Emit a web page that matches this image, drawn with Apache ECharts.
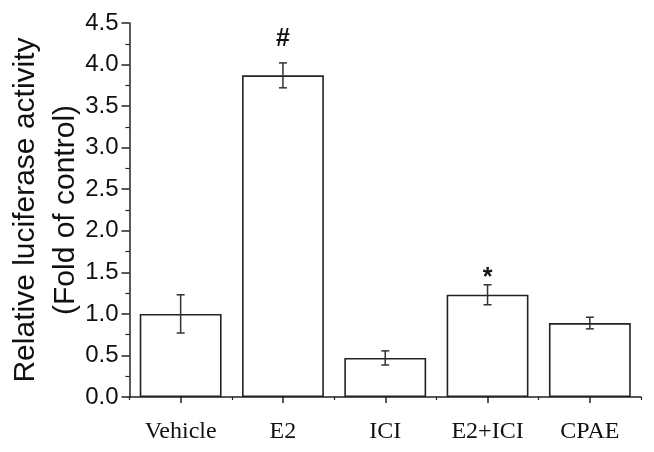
<!DOCTYPE html>
<html>
<head>
<meta charset="utf-8">
<script src="https://cdn.jsdelivr.net/npm/echarts@6/dist/echarts.min.js"></script>
<style>html,body{margin:0;padding:0;background:#fff;}#c{width:654px;height:452px;}</style>
</head>
<body>
<div id="c"></div>
<script>
var categories = ['Vehicle', 'E2', 'ICI', 'E2+ICI', 'CPAE'];
var means = [1.0, 3.87, 0.47, 1.23, 0.89];
var errors = [0.23, 0.15, 0.085, 0.12, 0.07];
var annotations = ['', '#', '', '*', ''];
var annotationLevels = [null, 4.31, null, 1.43, null];
var yTicks = [0, 0.5, 1.0, 1.5, 2.0, 2.5, 3.0, 3.5, 4.0, 4.5];

var lineColor = '#222';
var chart = echarts.init(document.getElementById('c'), null, {renderer: 'canvas'});

var errData = categories.map(function (c, i) { return [i, means[i] - errors[i], means[i] + errors[i]]; });
var annoData = categories.map(function (c, i) { return [i, annotationLevels[i] == null ? 0 : annotationLevels[i], annotations[i]]; });

chart.setOption({
  animation: false,
  grid: {left: 129.5, right: 13, top: 23, bottom: 55, containLabel: false, outerBoundsMode: 'none'},
  xAxis: [{
    type: 'category',
    data: categories,
    boundaryGap: true,
    axisLine: {show: true, lineStyle: {color: lineColor, width: 1.5}},
    axisTick: {show: true, alignWithLabel: true, length: 6, lineStyle: {color: lineColor, width: 1.5}},
    axisLabel: {fontFamily: '"Liberation Serif", "Times New Roman", serif', fontSize: 24, color: '#111', margin: 23},
    splitLine: {show: false}
  }, {
    type: 'category',
    data: categories,
    position: 'bottom',
    boundaryGap: true,
    axisLine: {show: false},
    axisTick: {show: true, length: 3, lineStyle: {color: lineColor, width: 1.2}},
    axisLabel: {show: false},
    splitLine: {show: false}
  }],
  yAxis: {
    type: 'value',
    min: 0, max: 4.5, interval: 0.5,
    name: 'Relative luciferase activity\n(Fold of control)',
    nameLocation: 'middle',
    nameRotate: 90,
    nameGap: 44,
    nameMoveOverlap: false,
    nameTextStyle: {fontFamily: 'Arial, "Liberation Sans", sans-serif', fontSize: 30, color: '#111', lineHeight: 40},
    axisLine: {show: true, lineStyle: {color: lineColor, width: 1.5}},
    axisTick: {show: true, length: 8, lineStyle: {color: lineColor, width: 1.5}},
    minorTick: {show: true, splitNumber: 2, length: 4, lineStyle: {color: lineColor, width: 1.2}},
    axisLabel: {
      fontFamily: 'Arial, "Liberation Sans", sans-serif', fontSize: 24, color: '#111', margin: 11,
      formatter: function (v) { return yTicks.indexOf(v) >= 0 ? v.toFixed(1) : ''; }
    },
    splitLine: {show: false}
  },
  series: [{
    type: 'bar',
    data: means,
    barWidth: '80%',
    itemStyle: {color: '#ffffff', borderColor: lineColor, borderWidth: 1.6},
    z: 2
  }, {
    type: 'custom',
    data: errData,
    z: 5,
    renderItem: function (params, api) {
      var x = api.value(0);
      var lo = api.coord([x, api.value(1)]);
      var hi = api.coord([x, api.value(2)]);
      var cw = 4;
      var st = {stroke: '#333', lineWidth: 1.5};
      return {
        type: 'group',
        children: [
          {type: 'line', shape: {x1: lo[0], y1: lo[1], x2: hi[0], y2: hi[1]}, style: st},
          {type: 'line', shape: {x1: lo[0] - cw, y1: lo[1], x2: lo[0] + cw, y2: lo[1]}, style: st},
          {type: 'line', shape: {x1: hi[0] - cw, y1: hi[1], x2: hi[0] + cw, y2: hi[1]}, style: st}
        ]
      };
    }
  }, {
    type: 'custom',
    data: annoData,
    z: 6,
    renderItem: function (params, api) {
      var txt = annotations[params.dataIndex];
      if (!txt) return null;
      var p = api.coord([api.value(0), api.value(1)]);
      return {
        type: 'text',
        x: p[0], y: p[1],
        style: {text: txt, fontFamily: 'Arial, "Liberation Sans", sans-serif', fontWeight: 'bold', fontSize: 25, fill: '#111', align: 'center', verticalAlign: 'middle'}
      };
    }
  }]
});
</script>
</body>
</html>
